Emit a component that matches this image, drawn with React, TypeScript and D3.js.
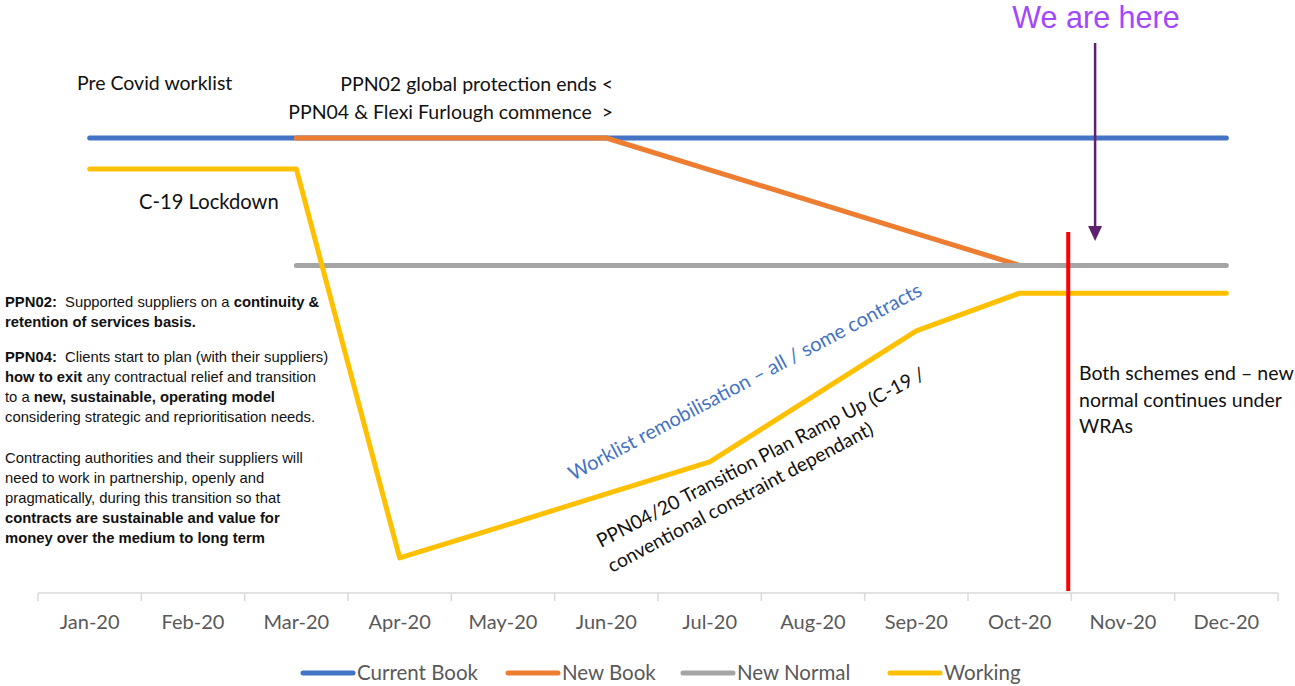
import React from "react";
import * as d3 from "d3";

const months = ["Jan-20","Feb-20","Mar-20","Apr-20","May-20","Jun-20","Jul-20","Aug-20","Sep-20","Oct-20","Nov-20","Dec-20"];
const currentBook: (number|null)[] = [100,100,100,100,100,100,100,100,100,100,100,100];
const newBook: (number|null)[] = [null,null,100,100,100,100,93,86,79,72,null,null];
const newNormal: (number|null)[] = [null,null,72,72,72,72,72,72,72,72,72,72];
const working: (number|null)[] = [93.2,93.2,93.2,7.7,14.7,21.8,28.8,43.2,57.6,65.9,65.9,65.9];

const seriesNames = ["Current Book","New Book","New Normal","Working"];
const seriesColors = ["#4472C4","#ED7D31","#A5A5A5","#FFC000"];
const seriesData = [currentBook,newBook,newNormal,working];

// position (in category units from start of axis) of markers
const redLineAt = 9.97;
const arrowAt = 10.23;

const W = 1295, H = 686;
const LF = "Lato, 'Open Sans', sans-serif";
const AF = "'Liberation Sans', Arial, sans-serif";

export default function App() {
  const x = d3.scaleBand().domain(months).range([38, 1278]);
  const xc = (i: number) => (x(months[i]) as number) + x.bandwidth() / 2;
  const xu = d3.scaleLinear().domain([0, 12]).range([38, 1278]);
  const y = d3.scaleLinear().domain([0, 100]).range([593, 138]);
  const line = d3.line<number|null>()
    .defined((d) => d != null)
    .x((_d, i) => xc(i))
    .y((d) => y(d as number));

  const legendX = [303, 508, 683, 890];
  const ax = xu(arrowAt);

  return (
    <svg width={W} height={H} style={{ position: "absolute", left: 0, top: 0, background: "#fff" }}>
      {/* axis */}
      <line x1={38} x2={1278} y1={593} y2={593} stroke="#D9D9D9" strokeWidth={1.5} />
      {d3.range(13).map((i) => (
        <line key={i} x1={xu(i)} x2={xu(i)} y1={593} y2={601} stroke="#D9D9D9" strokeWidth={1.5} />
      ))}
      {months.map((m, i) => (
        <text key={m} x={xc(i)} y={629} textAnchor="middle" fontFamily={LF} fontSize={20} fill="#595959">{m}</text>
      ))}

      {/* series */}
      {seriesData.map((s, k) => (
        <path key={k} d={line(s) as string} fill="none" stroke={seriesColors[k]} strokeWidth={5} strokeLinecap="round" strokeLinejoin="round" />
      ))}

      {/* red line */}
      <line x1={xu(redLineAt)} x2={xu(redLineAt)} y1={232} y2={591} stroke="#FF0000" strokeWidth={4} />

      {/* arrow */}
      <line x1={ax} x2={ax} y1={43} y2={228} stroke="#5E2170" strokeWidth={2.5} />
      <path d={`M${ax - 7},226 L${ax + 7},226 L${ax},241 Z`} fill="#5E2170" />
      <text x={1096} y={28} textAnchor="middle" fontFamily={AF} fontSize={30.5} fill="#A347FF">We are here</text>

      {/* annotations */}
      <text x={77} y={90} fontFamily={LF} fontSize={19.5} fill="#111">Pre Covid worklist</text>
      <text x={613} y={91} textAnchor="end" fontFamily={LF} fontSize={19.5} fill="#111">PPN02 global protection ends &lt;</text>
      <text x={613} y={119} textAnchor="end" fontFamily={LF} fontSize={19.5} fill="#111" style={{ whiteSpace: "pre" }}>{"PPN04 & Flexi Furlough commence  >"}</text>
      <text x={139} y={209} fontFamily={LF} fontSize={20.2} fill="#111">C-19 Lockdown</text>

      <g fontFamily={LF} fontSize={19.5} fill="#111">
        <text x={1079} y={380}>Both schemes end – new</text>
        <text x={1079} y={407}>normal continues under</text>
        <text x={1079} y={433}>WRAs</text>
      </g>

      <text transform="translate(573,481) rotate(-28)" fontFamily={LF} fontSize={20} fill="#4472C4">Worklist remobilisation – all / some contracts</text>
      <g fontFamily={LF} fontSize={19.2} fill="#111">
        <text transform="translate(601,548) rotate(-27.5)">PPN04/20 Transition Plan Ramp Up (C-19 /</text>
        <text transform="translate(612,573) rotate(-28)">conventional constraint dependant)</text>
      </g>

      {/* left block */}
      <g fontFamily={AF} fontSize={14.8} fill="#111">
        <text x={5} y={307} style={{ whiteSpace: "pre" }}><tspan fontWeight="bold">PPN02:</tspan>{"  Supported suppliers on a "}<tspan fontWeight="bold">continuity &amp;</tspan></text>
        <text x={5} y={327} fontWeight="bold">retention of services basis.</text>
        <text x={5} y={362} style={{ whiteSpace: "pre" }}><tspan fontWeight="bold">PPN04:</tspan>{"  Clients start to plan (with their suppliers)"}</text>
        <text x={5} y={382}><tspan fontWeight="bold">how to exit</tspan>{" any contractual relief and transition"}</text>
        <text x={5} y={402}>{"to a "}<tspan fontWeight="bold">new, sustainable, operating model</tspan></text>
        <text x={5} y={422}>considering strategic and reprioritisation needs.</text>
        <text x={5} y={463}>Contracting authorities and their suppliers will</text>
        <text x={5} y={483}>need to work in partnership, openly and</text>
        <text x={5} y={503}>pragmatically, during this transition so that</text>
        <text x={5} y={523} fontWeight="bold">contracts are sustainable and value for</text>
        <text x={5} y={543} fontWeight="bold">money over the medium to long term</text>
      </g>

      {/* legend */}
      {seriesNames.map((n, k) => (
        <g key={n}>
          <line x1={legendX[k]} x2={legendX[k] + 50} y1={673} y2={673} stroke={seriesColors[k]} strokeWidth={5} strokeLinecap="round" />
          <text x={legendX[k] + 54} y={680} fontFamily={LF} fontSize={20.5} fill="#595959">{n}</text>
        </g>
      ))}
    </svg>
  );
}
